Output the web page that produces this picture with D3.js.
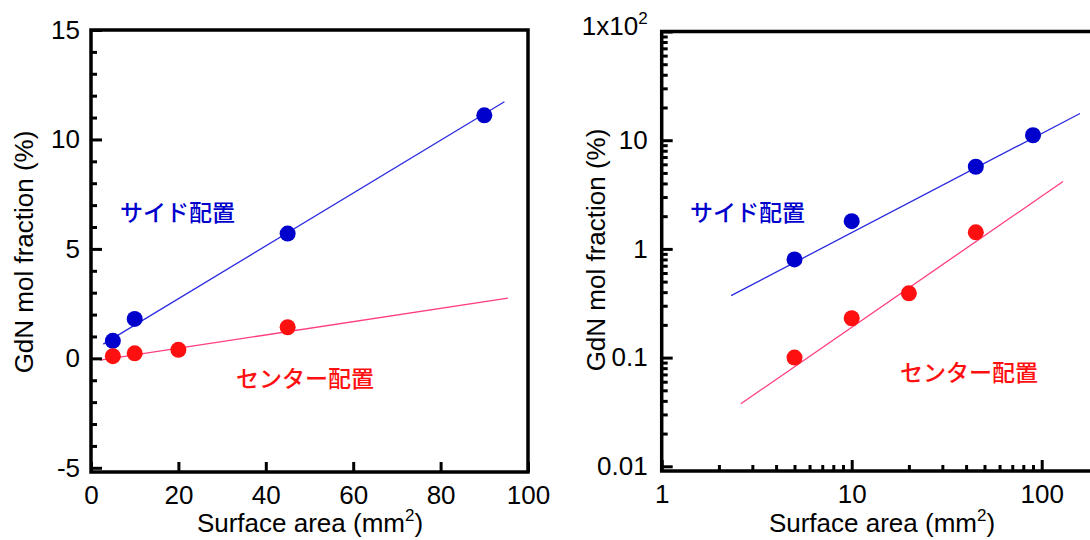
<!DOCTYPE html>
<html>
<head>
<meta charset="utf-8">
<script src="https://cdn.jsdelivr.net/npm/d3@7.9.0/dist/d3.min.js"></script>
<style>
  body { margin: 0; background: #fff; }
  svg { display: block; font-family: "Liberation Sans", Arial, sans-serif; }
  .tick text { font-size: 26px; fill: #000; }
  .jp { font-family: "Noto Sans CJK JP", sans-serif; font-size: 23px; font-weight: 500; }
</style>
</head>
<body>
<svg id="chart" width="1090" height="540"></svg>
<script>
// data
const sideArea = [5, 10, 45, 90];
const sideFrac = [0.8, 1.8, 5.7, 11.1];
const centerArea = [5, 10, 20, 45];
const centerFrac = [0.1, 0.23, 0.39, 1.42];

// fitted lines (end points), linear panel
const sideFitLinX = [2.8, 94.6];
const sideFitLinY = [0.65, 11.72];
const centerFitLinX = [2.1, 95.4];
const centerFitLinY = [-0.08, 2.75];

// fitted lines (end points), log panel
const sideFitLogX = [2.32, 159];
const sideFitLogY = [0.372, 17.6];
const centerFitLogX = [2.61, 129.5];
const centerFitLogY = [0.0376, 4.17];

const linYTicks = [-5, 0, 5, 10, 15];
const linXTicks = [0, 20, 40, 60, 80, 100];
const logYTicks = [0.01, 0.1, 1, 10, 100];
const logXTicks = [1, 10, 100];

const BLUE = '#0000cc';
const BLUE_LINE = '#2a2ae0';
const RED = '#ff1010';
const RED_LINE = '#ff3d7f';

const svg = d3.select('#chart');

function minorLog(lo, hi) {
  const out = [];
  for (let d = lo; d < hi; d *= 10) {
    for (let k = 2; k <= 9; k++) out.push(d * k);
  }
  return out;
}

function styleAxis(g) {
  g.select('.domain').remove();
  g.selectAll('.tick line').attr('stroke', '#000').attr('stroke-width', 3);
}

function drawPoints(g, x, y, xs, ys, color) {
  g.selectAll(null)
    .data(xs.map((v, i) => [v, ys[i]]))
    .join('circle')
    .attr('cx', d => x(d[0]))
    .attr('cy', d => y(d[1]))
    .attr('r', 8)
    .attr('fill', color);
}

function drawFit(g, x, y, xs, ys, color) {
  const line = d3.line().x(d => x(d[0])).y(d => y(d[1]));
  g.append('path')
    .attr('d', line(xs.map((v, i) => [v, ys[i]])))
    .attr('fill', 'none')
    .attr('stroke', color)
    .attr('stroke-width', 1.3);
}

function frame(x0, y0, x1, y1) {
  svg.append('rect')
    .attr('x', x0).attr('y', y0)
    .attr('width', x1 - x0).attr('height', y1 - y0)
    .attr('fill', 'none')
    .attr('stroke', '#000')
    .attr('stroke-width', 3.5);
}

function yTitle(cx, cy) {
  svg.append('text')
    .attr('transform', `translate(${cx},${cy}) rotate(-90)`)
    .attr('text-anchor', 'middle')
    .attr('font-size', 26)
    .text('GdN mol fraction (%)');
}

function xTitle(cx, by) {
  const t = svg.append('text')
    .attr('x', cx).attr('y', by)
    .attr('text-anchor', 'middle')
    .attr('font-size', 26);
  t.append('tspan').text('Surface area (mm');
  t.append('tspan').attr('font-size', 17).attr('dy', -11).text('2');
  t.append('tspan').attr('dy', 11).text(')');
}

// ===== left panel: linear =====
(function linearPanel() {
  const x = d3.scaleLinear().domain([0, 100]).range([91, 528]);
  const y = d3.scaleLinear().domain([-5, 15]).range([467.8, 30]);
  const bottom = 472;

  const g = svg.append('g');

  drawFit(g, x, y, sideFitLinX, sideFitLinY, BLUE_LINE);
  drawFit(g, x, y, centerFitLinX, centerFitLinY, RED_LINE);
  drawPoints(g, x, y, sideArea, sideFrac, BLUE);
  drawPoints(g, x, y, centerArea, centerFrac, RED);

  // minor y ticks
  svg.append('g')
    .attr('transform', `translate(${x(0)},0)`)
    .call(d3.axisLeft(y).tickValues(d3.range(-4, 15).filter(v => v % 5 !== 0))
      .tickSizeInner(-6).tickSizeOuter(0).tickFormat(''))
    .call(styleAxis);
  // major y ticks
  svg.append('g')
    .attr('transform', `translate(${x(0)},0)`)
    .call(d3.axisLeft(y).tickValues(linYTicks)
      .tickSizeInner(-11).tickSizeOuter(0).tickPadding(11).tickFormat(d => String(d)))
    .call(styleAxis);
  // x ticks
  svg.append('g')
    .attr('transform', `translate(0,${bottom})`)
    .call(d3.axisBottom(x).tickValues(linXTicks)
      .tickSizeInner(-10).tickSizeOuter(0).tickPadding(14).tickFormat(d => String(d)))
    .call(styleAxis);

  frame(x(0), y(15), x(100), bottom);

  g.append('text').attr('class', 'jp').attr('x', 120).attr('y', 221)
    .attr('fill', BLUE).text('サイド配置');
  g.append('text').attr('class', 'jp').attr('x', 236).attr('y', 387)
    .attr('fill', RED).text('センター配置');

  yTitle(33, 252);
  xTitle(310, 532);
})();

// ===== right panel: log-log =====
(function logPanel() {
  const left = 661.7;
  const decX = 190;
  const x = d3.scaleLog().domain([1, 200]).range([left, left + decX * Math.log10(200)]);
  const y = d3.scaleLog().domain([0.01, 100]).range([466.3, 31.5]);
  const bottom = 471;

  const g = svg.append('g');

  drawFit(g, x, y, sideFitLogX, sideFitLogY, BLUE_LINE);
  drawFit(g, x, y, centerFitLogX, centerFitLogY, RED_LINE);
  drawPoints(g, x, y, sideArea, sideFrac, BLUE);
  drawPoints(g, x, y, centerArea, centerFrac, RED);

  svg.append('g')
    .attr('transform', `translate(${left},0)`)
    .call(d3.axisLeft(y).tickValues(minorLog(0.01, 100))
      .tickSizeInner(-6).tickSizeOuter(0).tickFormat(''))
    .call(styleAxis);
  const yAx = svg.append('g')
    .attr('transform', `translate(${left},0)`)
    .call(d3.axisLeft(y).tickValues(logYTicks)
      .tickSizeInner(-11).tickSizeOuter(0).tickPadding(14)
      .tickFormat(d => d >= 100 ? '' : String(d)))
    .call(styleAxis);
  // top label written as 1x10^2
  const top = yAx.selectAll('.tick').filter(d => d === 100).select('text');
  top.attr('dy', '0.1em');
  top.append('tspan').text('1x10');
  top.append('tspan').attr('font-size', 17).attr('dy', -11).text('2');

  svg.append('g')
    .attr('transform', `translate(0,${bottom})`)
    .call(d3.axisBottom(x).tickValues(minorLog(1, 200).filter(v => v < 200))
      .tickSizeInner(-6).tickSizeOuter(0).tickFormat(''))
    .call(styleAxis);
  svg.append('g')
    .attr('transform', `translate(0,${bottom})`)
    .call(d3.axisBottom(x).tickValues(logXTicks)
      .tickSizeInner(-11).tickSizeOuter(0).tickPadding(14).tickFormat(d => String(d)))
    .call(styleAxis);

  frame(left, y(100), x(200), bottom);

  g.append('text').attr('class', 'jp').attr('x', 690).attr('y', 221)
    .attr('fill', BLUE).text('サイド配置');
  g.append('text').attr('class', 'jp').attr('x', 900).attr('y', 381)
    .attr('fill', RED).text('センター配置');

  yTitle(605, 250);
  xTitle(882, 532);
})();
</script>
</body>
</html>
